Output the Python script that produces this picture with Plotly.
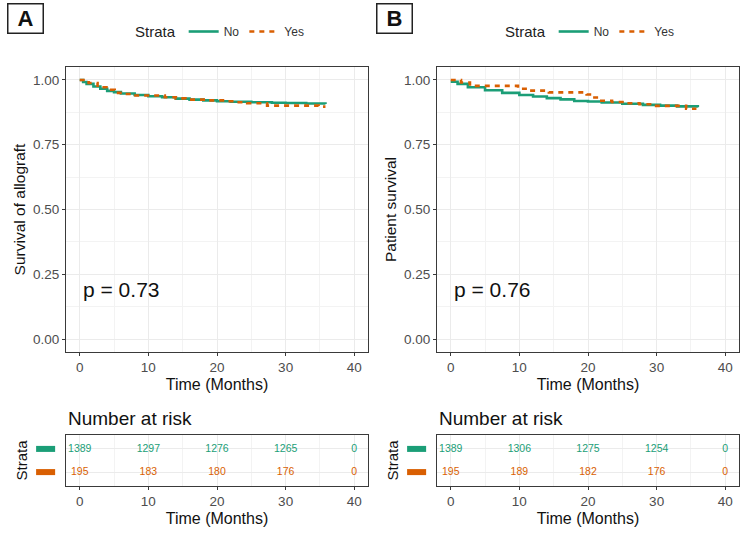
import plotly.graph_objects as go

# ---------------- data ----------------
strata = ["No", "Yes"]
colors = {"No": "#1B9E77", "Yes": "#D95F02"}

# Panel A: survival of allograft (step curves)
a_no_t = [0, 0.5, 1, 2, 3, 4, 5, 6, 8, 10, 12, 14, 16, 18, 20, 22, 25, 28, 30, 33, 35.8]
a_no_s = [1.0, 0.992, 0.985, 0.975, 0.966, 0.958, 0.953, 0.948, 0.942, 0.937, 0.933, 0.928, 0.924, 0.921, 0.918, 0.916, 0.914, 0.912, 0.911, 0.909, 0.907]
a_yes_t = [0, 1.3, 2.6, 3.9, 5.1, 6.4, 7.8, 12.4, 14.0, 15.4, 18.8, 21.5, 22.9, 24.4, 27.3, 34.8, 35.8]
a_yes_s = [1.0, 0.988, 0.972, 0.962, 0.950, 0.946, 0.940, 0.933, 0.929, 0.924, 0.921, 0.918, 0.914, 0.910, 0.901, 0.897, 0.897]

# Panel B: patient survival
b_no_t = [0, 1, 2.5, 5, 7.5, 10, 12, 14, 16, 18, 20, 22, 25, 28, 30.5, 33, 36]
b_no_s = [0.993, 0.985, 0.972, 0.960, 0.950, 0.942, 0.936, 0.930, 0.925, 0.919, 0.917, 0.913, 0.908, 0.904, 0.901, 0.898, 0.895]
b_yes_t = [0, 1.5, 2.8, 9.8, 11.3, 14.3, 19.8, 20.6, 21.6, 23.5, 25.5, 27.5, 29.5, 34.3, 35.8]
b_yes_s = [1.0, 0.990, 0.977, 0.966, 0.959, 0.952, 0.944, 0.932, 0.920, 0.915, 0.910, 0.906, 0.900, 0.889, 0.889]

p_values = ["p = 0.73", "p = 0.76"]
y_titles = ["Survival of allograft", "Patient survival"]
panel_labels = ["A", "B"]

risk_times = [0, 10, 20, 30, 40]
risk_a_no = [1389, 1297, 1276, 1265, 0]
risk_a_yes = [195, 183, 180, 176, 0]
risk_b_no = [1389, 1306, 1275, 1254, 0]
risk_b_yes = [195, 189, 182, 176, 0]

x_ticks = [0, 10, 20, 30, 40]
y_ticks = [0, 0.25, 0.5, 0.75, 1.0]
y_ticklabels = ["0.00", "0.25", "0.50", "0.75", "1.00"]

# ---------------- layout helpers ----------------
W, H = 750, 539
FONT = "Liberation Sans, Arial, sans-serif"

def px(x):
    return x / W

def py(y):
    return 1 - y / H

panels = [
    dict(left=66, right=368),
    dict(left=437, right=739),
]
main_top, main_bot = 67, 352
risk_top, risk_bot = 435, 486

fig = go.Figure()

curves = [
    [(a_no_t, a_no_s, "No"), (a_yes_t, a_yes_s, "Yes")],
    [(b_no_t, b_no_s, "No"), (b_yes_t, b_yes_s, "Yes")],
]
risks = [
    {"No": risk_a_no, "Yes": risk_a_yes},
    {"No": risk_b_no, "Yes": risk_b_yes},
]
row_pos = {"No": 2, "Yes": 1}

for i in range(2):
    mx = "x" if i == 0 else "x2"
    my = "y" if i == 0 else "y2"
    rx = "x3" if i == 0 else "x4"
    ry = "y3" if i == 0 else "y4"
    leg = "legend" if i == 0 else "legend2"
    for t, s, name in curves[i]:
        fig.add_trace(go.Scatter(
            x=t, y=s, mode="lines", name=name, legend=leg,
            line=dict(color=colors[name], width=2.6, shape="hv",
                      dash="solid" if name == "No" else "5px,5px"),
            xaxis=mx, yaxis=my,
        ))
    for name in strata:
        fig.add_trace(go.Scatter(
            x=risk_times, y=[row_pos[name]] * len(risk_times),
            mode="text", text=[str(v) for v in risks[i][name]],
            textfont=dict(family=FONT, size=10.5, color=colors[name]),
            showlegend=False, xaxis=rx, yaxis=ry, hoverinfo="skip",
        ))

axis_common = dict(
    showline=True, mirror=True, linecolor="#3a3a3a", linewidth=1.2,
    ticks="outside", ticklen=3, tickcolor="#3a3a3a",
    tickfont=dict(family=FONT, size=13.5, color="#4D4D4D"),
    gridcolor="#EBEBEB", gridwidth=1, zeroline=False, automargin=False,
)

layout = dict(
    width=W, height=H, margin=dict(l=0, r=0, t=0, b=0, autoexpand=False),
    paper_bgcolor="white", plot_bgcolor="white",
    font=dict(family=FONT, color="#222"),
)

for i, p in enumerate(panels):
    sfx_main = "" if i == 0 else "2"
    sfx_risk = "3" if i == 0 else "4"
    xdom = [px(p["left"]), px(p["right"])]
    layout["xaxis" + sfx_main] = dict(
        axis_common, domain=xdom, range=[-2, 42], tickvals=x_ticks,
        anchor="y" + sfx_main,
        minor=dict(dtick=5, tick0=0, showgrid=True, gridcolor="#F3F3F3", gridwidth=0.8, ticklen=0),
        title=dict(text="Time (Months)", font=dict(family=FONT, size=16, color="#111"), standoff=4),
    )
    layout["yaxis" + sfx_main] = dict(
        axis_common, domain=[py(main_bot), py(main_top)], range=[-0.05, 1.05],
        tickvals=y_ticks, ticktext=y_ticklabels, anchor="x" + sfx_main,
        minor=dict(dtick=0.125, tick0=0, showgrid=True, gridcolor="#F3F3F3", gridwidth=0.8, ticklen=0),
        title=dict(text=y_titles[i], font=dict(family=FONT, size=15.5, color="#111"), standoff=3),
    )
    layout["xaxis" + sfx_risk] = dict(
        axis_common, domain=xdom, range=[-2, 42], tickvals=x_ticks,
        anchor="y" + sfx_risk,
        minor=dict(dtick=5, tick0=0, showgrid=True, gridcolor="#F3F3F3", gridwidth=0.8, ticklen=0),
        title=dict(text="Time (Months)", font=dict(family=FONT, size=16, color="#111"), standoff=4),
    )
    layout["yaxis" + sfx_risk] = dict(
        axis_common, domain=[py(risk_bot), py(risk_top)], range=[0.4, 2.6],
        tickvals=[1, 2], showticklabels=False, ticks="", anchor="x" + sfx_risk,
        title=dict(text="Strata", font=dict(family=FONT, size=15, color="#111"), standoff=33),
    )

legend_common = dict(
    orientation="h", yanchor="middle", xanchor="left",
    font=dict(family=FONT, size=12, color="#333"),
    title=dict(text="Strata", font=dict(family=FONT, size=15, color="#222"), side="left"),
    bgcolor="rgba(0,0,0,0)", itemwidth=30, tracegroupgap=0,
)
layout["legend"] = dict(legend_common, x=px(133), y=py(32))
layout["legend2"] = dict(legend_common, x=px(503), y=py(32))

fig.update_layout(**layout)

# p-value annotations and panel labels
for i in range(2):
    mx = "x" if i == 0 else "x2"
    my = "y" if i == 0 else "y2"
    fig.add_annotation(
        x=0.2, y=0.19, xref=mx, yref=my, text=p_values[i], showarrow=False,
        xanchor="left", yanchor="middle",
        font=dict(family=FONT, size=21, color="#111"),
    )
    p = panels[i]
    fig.add_annotation(
        x=px(p["left"]), y=py(418), xref="paper", yref="paper", text="Number at risk",
        showarrow=False, xanchor="left", yanchor="middle",
        font=dict(family=FONT, size=19, color="#111"),
    )
    lbl_x = [25, 394][i]
    fig.add_annotation(
        x=px(lbl_x), y=py(18), xref="paper", yref="paper",
        text="<b>" + panel_labels[i] + "</b>", showarrow=False,
        xanchor="center", yanchor="middle",
        font=dict(family=FONT, size=22, color="#111"),
        bordercolor="#222", borderwidth=1.5, borderpad=1, width=32, height=26,
        bgcolor="white",
    )

# colored strata keys beside the risk tables
for i in range(2):
    rxd = "x3 domain" if i == 0 else "x4 domain"
    ry = "y3" if i == 0 else "y4"
    for name in strata:
        fig.add_shape(
            type="rect", xref=rxd, yref=ry,
            x0=-0.099, x1=-0.036,
            y0=row_pos[name] - 0.13, y1=row_pos[name] + 0.13,
            fillcolor=colors[name], line=dict(width=0),
        )

fig.write_html("out.html", config={"displayModeBar": False},
               post_script="document.body.style.margin='0px';")
